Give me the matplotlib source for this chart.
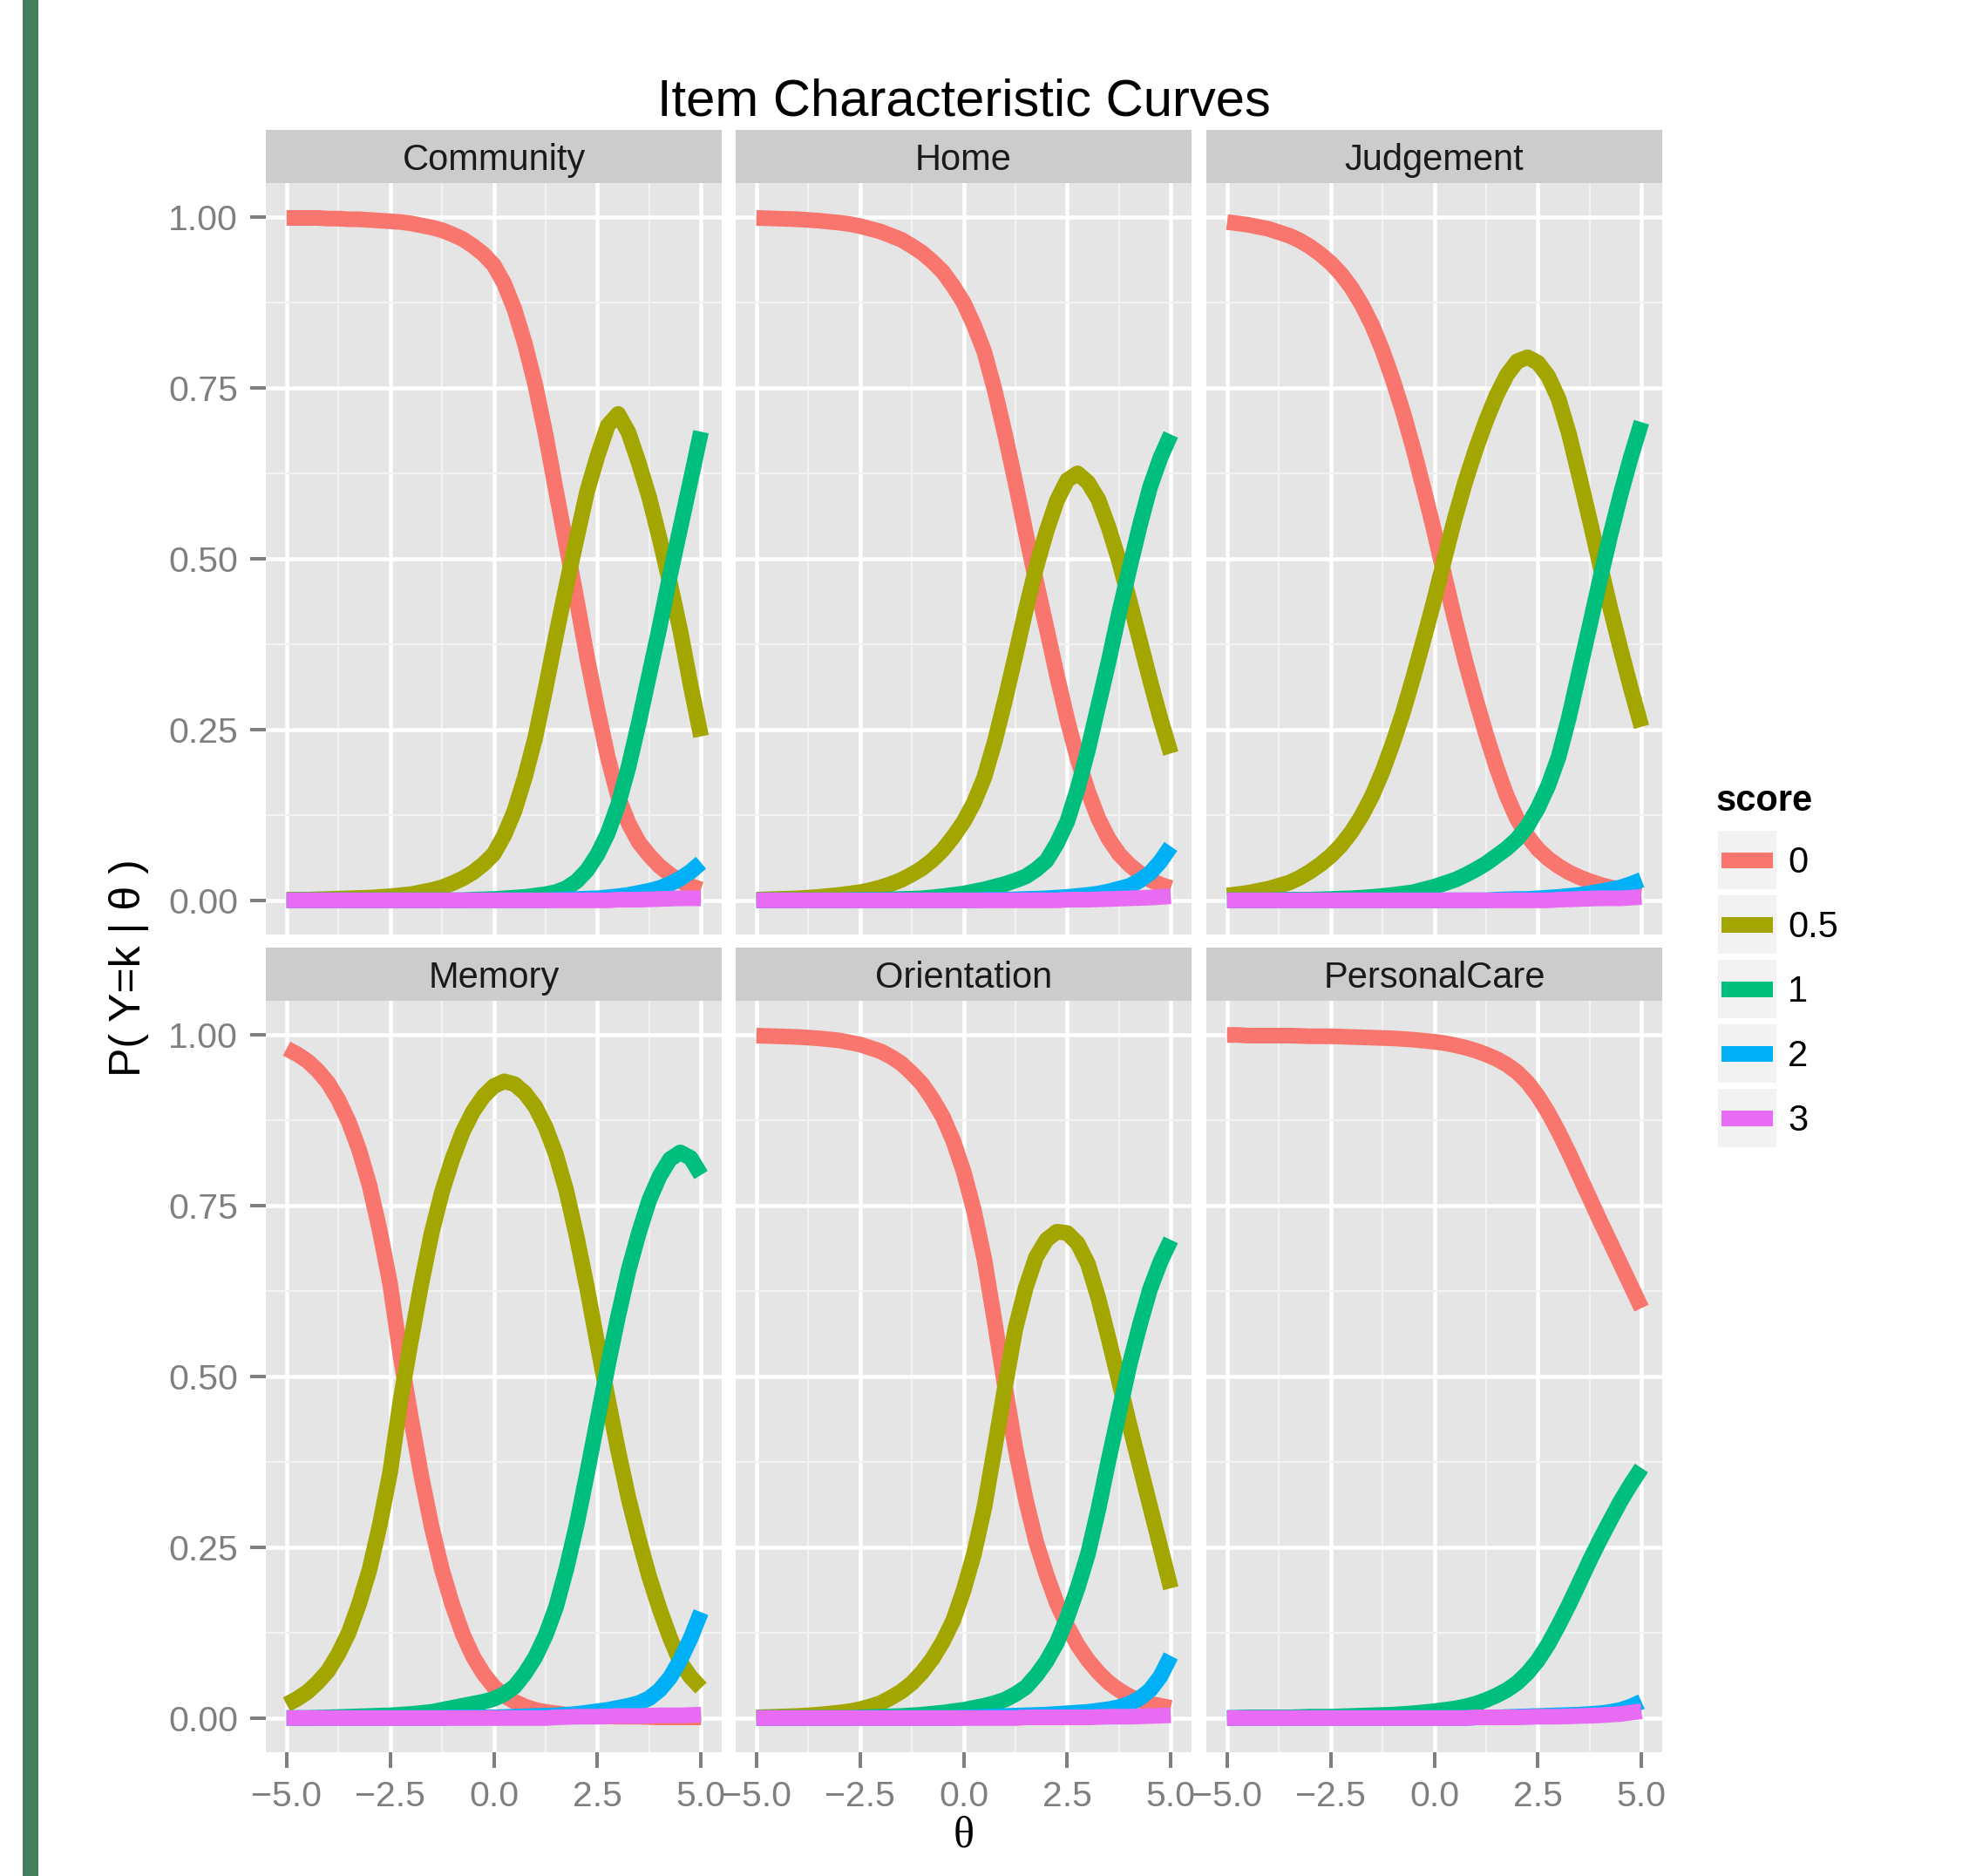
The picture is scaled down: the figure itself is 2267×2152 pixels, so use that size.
import matplotlib
matplotlib.use("Agg")
import matplotlib.pyplot as plt
from matplotlib.patches import Rectangle

plt.rcParams["font.family"] = ["Liberation Sans", "DejaVu Sans"]

W, H, DPI = 2267, 2152, 100

# ---- data (theta step 0.25) ----
theta = [-5.0, -4.75, -4.5, -4.25, -4.0, -3.75, -3.5, -3.25, -3.0, -2.75,
         -2.5, -2.25, -2.0, -1.75, -1.5, -1.25, -1.0, -0.75, -0.5, -0.25,
         0.0, 0.25, 0.5, 0.75, 1.0, 1.25, 1.5, 1.75, 2.0, 2.25,
         2.5, 2.75, 3.0, 3.25, 3.5, 3.75, 4.0, 4.25, 4.5, 4.75, 5.0]
items = ["Community", "Home", "Judgement", "Memory", "Orientation", "PersonalCare"]
scores = ["0", "0.5", "1", "2", "3"]
score_colors = ["#F8766D", "#A3A500", "#00BF7D", "#00B0F6", "#E76BF3"]

community = {
    "0": [.999, .999, .999, .999, .998, .998, .997, .997, .996, .995,
          .994, .993, .991, .988, .985, .981, .975, .968, .958, .946,
          .930, .903, .865, .815, .755, .682, .600, .520, .440, .356,
          .280, .210, .152, .113, .085, .066, .050, .038, .028, .021, .016],
    "0.5": [.001, .001, .001, .0015, .002, .0025, .003, .0035, .004, .005,
            .006, .0075, .009, .012, .015, .019, .025, .032, .041, .053,
            .068, .095, .131, .180, .238, .310, .387, .460, .530, .598,
            .650, .695, .712, .685, .640, .590, .530, .465, .395, .315, .240],
    "1": [0] * 18 + [.001, .0015, .002, .003, .004, .005, .007, .009, .012, .018,
                    .028, .044, .067, .098, .140, .195, .260, .330, .400, .475,
                    .545, .615, .686],
    "2": [0] * 26 + [.001, .0015, .002, .0025, .003, .0045, .006, .008, .011, .014,
                    .018, .024, .032, .042, .055],
    "3": [0] * 32 + [.001, .001, .001, .0015, .002, .0025, .003, .003, .003],
}
home = {
    "0": [.999, .9985, .998, .9975, .997, .996, .995, .9935, .992, .990,
          .987, .983, .979, .973, .967, .958, .948, .935, .920, .899,
          .875, .842, .803, .747, .682, .612, .538, .467, .399, .330,
          .265, .207, .160, .120, .090, .068, .052, .040, .030, .023, .018],
    "0.5": [.001, .0015, .002, .0025, .003, .004, .005, .0065, .008, .010,
            .012, .015, .019, .024, .030, .038, .047, .059, .074, .093,
            .115, .143, .180, .232, .293, .358, .425, .487, .540, .585,
            .615, .625, .612, .587, .546, .497, .440, .381, .322, .266, .215],
    "1": [0] * 9 + [.0005, .001, .001, .001, .0015, .002, .0025, .003, .0045, .006,
                   .008, .010, .013, .016, .020, .024, .029, .035, .045, .058,
                   .083, .115, .163, .220, .285, .350, .420, .485, .548, .605,
                   .648, .682],
    "2": [0] * 22 + [.001, .001, .001, .0015, .002, .0025, .003, .004, .005, .0065,
                    .008, .010, .013, .017, .021, .029, .040, .057, .079],
    "3": [0] * 30 + [.001, .001, .001, .0015, .002, .0025, .003, .0035, .004, .005,
                    .006],
}
judgement = {
    "0": [.993, .991, .989, .986, .983, .978, .973, .966, .957, .946,
          .933, .917, .897, .872, .842, .805, .762, .714, .660, .601,
          .540, .474, .410, .350, .295, .243, .195, .153, .119, .094,
          .075, .061, .050, .041, .034, .028, .023, .019, .016, .013, .011],
    "0.5": [.007, .009, .011, .014, .017, .0215, .026, .033, .042, .0525,
            .065, .0805, .100, .124, .153, .1885, .230, .276, .328, .383,
            .440, .501, .560, .613, .660, .702, .739, .769, .789, .795,
            .787, .767, .734, .683, .621, .557, .491, .427, .367, .309, .254],
    "1": [0, 0, 0, 0, 0, .0005, .001, .001, .001, .0015,
          .002, .0025, .003, .004, .005, .0065, .008, .010, .012, .016,
          .020, .025, .030, .037, .045, .054, .065, .076, .090, .109,
          .135, .168, .210, .268, .335, .402, .470, .535, .595, .650, .700],
    "2": [0] * 26 + [.001, .0015, .002, .002, .003, .004, .005, .0065, .008, .0105,
                    .013, .016, .019, .024, .030],
    "3": [0] * 32 + [.001, .0015, .002, .0025, .003, .003, .003, .004, .005],
}
memory = {
    "0": [.980, .972, .962, .948, .930, .905, .873, .832, .780, .713,
          .635, .530, .440, .355, .280, .217, .166, .123, .090, .065,
          .046, .033, .024, .017, .012, .009, .007, .005, .004, .0035,
          .003, .0025, .002, .002, .002, .0015, .001, .001, .001, .001, .001],
    "0.5": [.020, .028, .038, .052, .069, .094, .125, .167, .217, .283,
            .360, .465, .552, .635, .710, .770, .818, .858, .888, .910,
            .925, .932, .928, .915, .895, .865, .825, .772, .705, .630,
            .548, .468, .392, .322, .262, .207, .160, .118, .082, .060, .044],
    "1": [0, 0, 0, .0005, .001, .0015, .002, .0025, .003, .0035,
          .004, .005, .006, .0075, .009, .012, .015, .018, .021, .024,
          .028, .035, .046, .065, .089, .121, .162, .218, .283, .358,
          .436, .515, .588, .655, .710, .758, .793, .818, .828, .820, .795],
    "2": [0] * 16 + [.001, .001, .001, .001, .001, .0015, .002, .0025, .003, .0035,
                    .004, .005, .006, .008, .010, .012, .015, .018, .022, .029,
                    .041, .059, .085, .117, .155],
    "3": [0] * 26 + [.001, .0015, .002, .002, .002, .0025, .003, .003, .003, .0035,
                    .004, .004, .004, .0045, .005],
}
orientation = {
    "0": [.999, .9985, .998, .9975, .997, .996, .995, .9935, .992, .989,
          .986, .981, .976, .968, .958, .944, .928, .906, .880, .845,
          .800, .743, .672, .580, .485, .395, .320, .258, .210, .168,
          .135, .107, .085, .067, .052, .041, .032, .026, .021, .018, .015],
    "0.5": [.001, .0015, .002, .0025, .003, .004, .005, .0065, .008, .010,
            .013, .017, .022, .030, .039, .051, .067, .087, .112, .143,
            .187, .240, .308, .395, .485, .570, .630, .675, .700, .712,
            .710, .695, .665, .615, .555, .493, .430, .370, .310, .250, .190],
    "1": [0] * 10 + [.001, .0015, .002, .0025, .003, .004, .005, .0065, .008, .010,
                    .012, .015, .018, .022, .027, .035, .045, .062, .083, .110,
                    .147, .190, .240, .305, .378, .447, .516, .575, .628, .668,
                    .700],
    "2": [0] * 20 + [.001, .0015, .002, .0025, .003, .0035, .004, .0045, .005, .006,
                    .007, .008, .009, .011, .013, .016, .021, .029, .041, .061,
                    .091],
    "3": [0] * 26 + [.001, .001, .001, .001, .001, .001, .001, .0015, .002, .002,
                    .002, .0025, .003, .0035, .004],
}
personal_care = {
    "0": [1.0, 1.0, .999, .999, .999, .999, .999, .9985, .998, .998,
          .998, .9975, .997, .9965, .996, .9955, .995, .994, .993, .9915,
          .990, .988, .985, .9815, .977, .9715, .965, .9565, .9455, .9305,
          .9105, .886, .858, .827, .794, .761, .728, .696, .664, .632, .600],
    "0.5": None,  # no 0.5 category for this item
    "1": [0, .0005, .001, .001, .001, .001, .001, .0015, .002, .002,
          .002, .0025, .003, .0035, .004, .0045, .005, .006, .007, .0085,
          .010, .012, .014, .017, .021, .0265, .033, .041, .0515, .066,
          .0845, .108, .136, .166, .198, .2305, .261, .290, .318, .343, .366],
    "2": [0] * 24 + [.001, .001, .001, .0015, .002, .0025, .003, .0035, .004, .0045,
                    .005, .006, .007, .009, .012, .017, .024],
    "3": [0] * 24 + [.001, .001, .001, .001, .001, .0015, .002, .002, .002, .0025,
                    .003, .0035, .004, .005, .006, .008, .010],
}
item_data = [community, home, judgement, memory, orientation, personal_care]

x_ticks = [-5.0, -2.5, 0.0, 2.5, 5.0]
y_ticks = [0.0, 0.25, 0.5, 0.75, 1.0]
y_ticklabels = ["0.00", "0.25", "0.50", "0.75", "1.00"]

# ---- layout (pixels of the 2267x2152 canvas) ----
col_left = [305, 844, 1384]
panel_w = 523
row_top = [210, 1148]
panel_h = 862
strip_h = 61
grey_txt = "#7F7F7F"
px = 72.0 / DPI  # points per pixel


def fig_box(x0, y0, w, h):
    return [x0 / W, 1 - (y0 + h) / H, w / W, h / H]


fig = plt.figure(figsize=(W / DPI, H / DPI), dpi=DPI)

# green bar at the left edge
fig.patches.append(Rectangle((26 / W, 0), 18 / W, 1, transform=fig.transFigure,
                             facecolor="#447F5E", edgecolor="none"))

for i, (name, data) in enumerate(zip(items, item_data)):
    r, c = divmod(i, 3)
    ax = fig.add_axes(fig_box(col_left[c], row_top[r], panel_w, panel_h))
    ax.set_facecolor("#E5E5E5")
    for s in ax.spines.values():
        s.set_visible(False)
    ax.set_xlim(-5.5, 5.5)
    ax.set_ylim(-0.05, 1.05)
    ax.set_xticks(x_ticks)
    ax.set_xticks([-3.75, -1.25, 1.25, 3.75], minor=True)
    ax.set_yticks(y_ticks)
    ax.set_yticks([0.125, 0.375, 0.625, 0.875], minor=True)
    ax.set_yticklabels(y_ticklabels)
    ax.grid(which="major", color="white", linewidth=4.5 * px)
    ax.grid(which="minor", color="#F2F2F2", linewidth=2.2 * px)
    ax.set_axisbelow(True)
    ax.tick_params(which="minor", length=0)
    ax.tick_params(which="major", length=18 * px, width=4 * px, color=grey_txt,
                   labelcolor=grey_txt, labelsize=29.5, pad=14 * px)
    ax.tick_params(axis="y", left=(c == 0), labelleft=(c == 0))
    ax.tick_params(axis="x", bottom=(r == 1), labelbottom=(r == 1))

    for sc, col in zip(scores, score_colors):
        vals = data[sc]
        if vals is None:
            continue
        ax.plot(theta, vals, color=col, linewidth=18 * px, solid_capstyle="butt",
                solid_joinstyle="round")

    sax = fig.add_axes(fig_box(col_left[c], row_top[r] - strip_h, panel_w, strip_h))
    sax.set_facecolor("#CCCCCC")
    sax.set_xticks([])
    sax.set_yticks([])
    for s in sax.spines.values():
        s.set_visible(False)
    sax.text(0.5, 0.42, name, ha="center", va="center", fontsize=30,
             color="#1A1A1A", transform=sax.transAxes)

# titles
fig.text(1106 / W, 1 - 117 / H, "Item Characteristic Curves", ha="center",
         va="center", fontsize=43, color="black")
fig.text(1106 / W, 1 - 2106 / H, "θ", ha="center", va="center", fontsize=36,
         family=["Liberation Serif", "DejaVu Serif"])
fig.text(148 / W, 1 - 1110 / H, "P( Y=k | θ )", ha="center", va="center",
         rotation=90, fontsize=36)

# legend, drawn in canvas pixels
lax = fig.add_axes([0, 0, 1, 1])
lax.set_xlim(0, W)
lax.set_ylim(H, 0)
lax.axis("off")
lax.text(1968, 919, "score", ha="left", va="center", fontsize=30,
         fontweight="bold")
for k, (sc, col) in enumerate(zip(scores, score_colors)):
    top = 952 + k * 74
    lax.add_patch(Rectangle((1970, top), 69, 69, facecolor="#F2F2F2",
                            edgecolor="white", linewidth=2 * px))
    lax.plot([1975, 2034], [top + 34.5, top + 34.5], color=col,
             linewidth=18 * px, solid_capstyle="butt")
    lax.text(2051, top + 38, sc, ha="left", va="center", fontsize=30)

fig.savefig("out.png", dpi=DPI, facecolor="white")
